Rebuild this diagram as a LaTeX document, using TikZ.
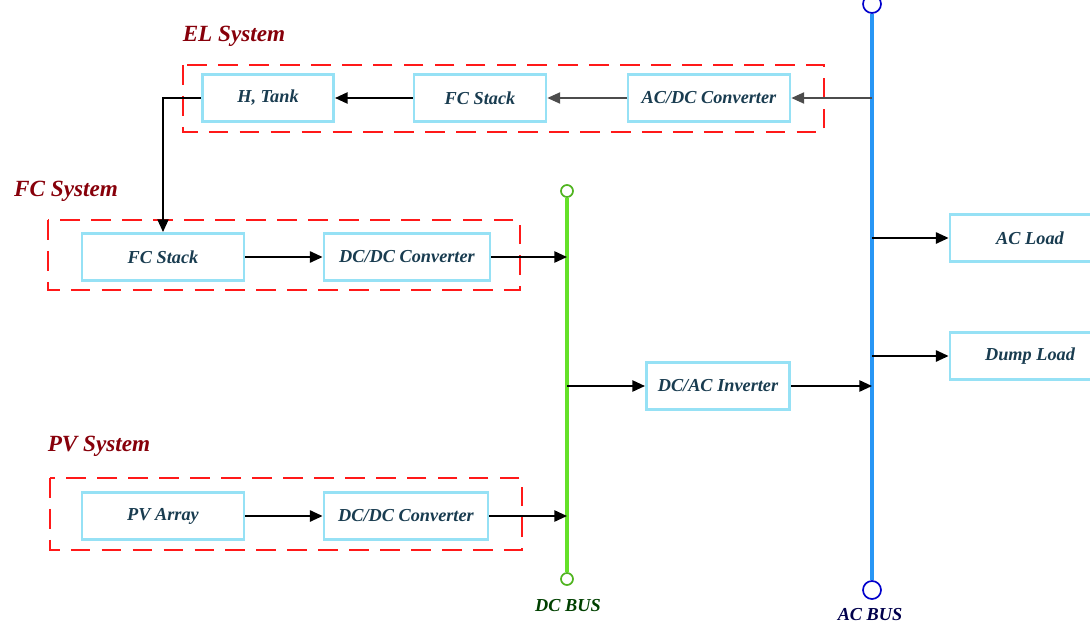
\documentclass[tikz,border=0pt]{standalone}
\usepackage{fontspec}
\setmainfont{Liberation Serif}
\usetikzlibrary{arrows.meta}
\definecolor{boxline}{RGB}{150,225,245}
\definecolor{boxtext}{RGB}{25,60,80}
\definecolor{sysred}{RGB}{135,0,10}
\definecolor{acblue}{RGB}{40,150,245}
\definecolor{dcgreen}{RGB}{100,225,40}

\begin{document}
\begin{tikzpicture}[x=0.025cm, y=-0.025cm,
    blk/.style={draw=boxline, line width=2pt, minimum height=1.18cm, inner sep=0pt,
        font=\fontsize{13}{15}\selectfont\bfseries\itshape, text=boxtext},
    grp/.style={draw=red!90!white, line width=1.6pt, dash pattern=on 14pt off 8pt},
    ttl/.style={font=\fontsize{16.5}{18}\selectfont\bfseries\itshape, text=sysred},
    flow/.style={-{Triangle[length=9pt, width=8pt]}, line width=1.3pt},
    term/.style={draw, circle, fill=white, inner sep=0pt}]
    \clip (0,0) rectangle (1090,624);
    % buses
    \node[term, draw=blue!80!black, line width=1.2pt, minimum size=0.45cm] (acTop) at (872,4) {};
    \node[term, draw=blue!80!black, line width=1.2pt, minimum size=0.45cm] (acBot) at (872,590) {};
    \node[term, draw=dcgreen!80!black, line width=1.2pt, minimum size=0.3cm] (dcTop) at (567,191) {};
    \node[term, draw=dcgreen!80!black, line width=1.2pt, minimum size=0.3cm] (dcBot) at (567,579) {};
    \draw[acblue, line width=3.5pt] (acTop) -- (acBot);
    \draw[dcgreen, line width=2.8pt] (dcTop) -- (dcBot);
    \node[font=\fontsize{13}{15}\selectfont\bfseries\itshape, text=blue!30!black] (acLbl) at (870,615) {AC BUS};
    \node[font=\fontsize{13}{15}\selectfont\bfseries\itshape, text=green!25!black] (dcLbl) at (568,606) {DC BUS};
    % groups
    \draw[grp] (183,65) rectangle (824,132);
    \draw[grp] (48,220) rectangle (520,290);
    \draw[grp] (50,478) rectangle (522,550);
    \node[ttl] (elTtl) at (234,36) {EL System};
    \node[ttl] (fcTtl) at (66,191) {FC System};
    \node[ttl] (pvTtl) at (99,446) {PV System};
    % blocks
    \node[blk, minimum width=3.28cm] (htank) at (268,98) {H, Tank};
    \node[blk, minimum width=3.3cm] (elfc) at (480,98) {FC Stack};
    \node[blk, minimum width=4.05cm] (acdc) at (709,98) {AC/DC Converter};
    \node[blk, minimum width=4.05cm] (fcstack) at (163,257) {FC Stack};
    \node[blk, minimum width=4.15cm] (fcdcdc) at (407,257) {DC/DC Converter};
    \node[blk, minimum width=4.05cm] (pvarr) at (163,516) {PV Array};
    \node[blk, minimum width=4.1cm] (pvdcdc) at (406,516) {DC/DC Converter};
    \node[blk, minimum width=3.58cm] (inv) at (718,386) {DC/AC Inverter};
    \node[blk, minimum width=4cm] (acload) at (1030,238) {AC Load};
    \node[blk, minimum width=4cm] (dump) at (1030,356) {Dump Load};
    % taps on the buses
    \coordinate (acEL) at (872,98);
    \coordinate (acInv) at (872,386);
    \coordinate (acLd) at (872,238);
    \coordinate (acDp) at (872,356);
    \coordinate (dcFC) at (567,257);
    \coordinate (dcPV) at (567,516);
    \coordinate (dcInv) at (567,386);
    % flows
    \draw[flow, line width=0.8pt, black!70] (acEL) -- (acdc);
    \draw[flow, line width=0.8pt, black!70] (acdc) -- (elfc);
    \draw[flow] (elfc) -- (htank);
    \draw[flow, line width=0.8pt] (htank.west) -| (fcstack.north);
    \draw[flow] (fcstack) -- (fcdcdc);
    \draw[flow] (fcdcdc) -- (dcFC);
    \draw[flow] (pvarr) -- (pvdcdc);
    \draw[flow] (pvdcdc) -- (dcPV);
    \draw[flow] (dcInv) -- (inv);
    \draw[flow] (inv) -- (acInv);
    \draw[flow] (acLd) -- (acload);
    \draw[flow] (acDp) -- (dump);
\end{tikzpicture}
\end{document}
